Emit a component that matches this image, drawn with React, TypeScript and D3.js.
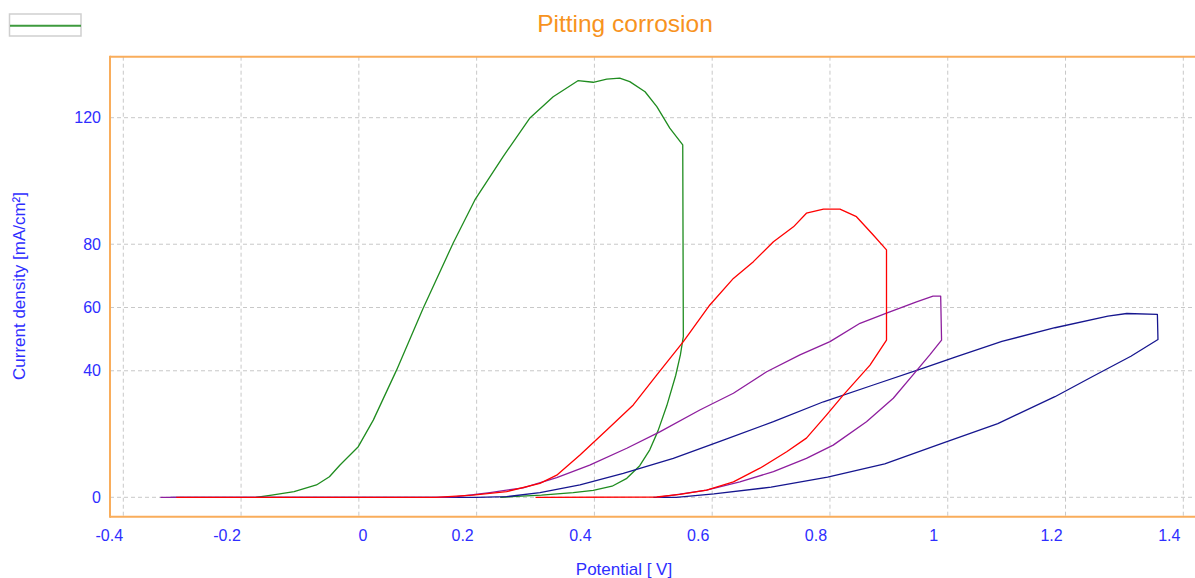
import React from 'react';
import * as d3 from 'd3';

// potential [V], current density [mA/cm²]
const greenCurve: [number, number][] = [
  [-0.175, 0], [-0.148, 0.7], [-0.11, 1.8], [-0.072, 3.9], [-0.05, 6.5], [-0.032, 10.2],
  [-0.001, 16], [0.0245, 24.4], [0.064, 40.2], [0.109, 59.7], [0.16, 80.3], [0.197, 94],
  [0.245, 107.7], [0.29, 119.8], [0.33, 126.6], [0.372, 131.7], [0.398, 131.2], [0.421, 132.2],
  [0.443, 132.5], [0.46, 131.4], [0.486, 128.2], [0.506, 123.5], [0.528, 116.7], [0.55, 111.4],
  [0.551, 50.8], [0.546, 45], [0.538, 38.5], [0.523, 29], [0.508, 21], [0.494, 15], [0.477, 10],
  [0.455, 6], [0.43, 3.5], [0.398, 2.2], [0.364, 1.5], [0.31, 0.7], [0.26, 0.2], [0.24, 0],
];

const redCurve: [number, number][] = [
  [-0.31, 0], [0.13, 0], [0.194, 0.7], [0.251, 1.8], [0.3075, 4.4], [0.336, 7], [0.3755, 13.4],
  [0.421, 21.3], [0.466, 29.2], [0.506, 38.7], [0.551, 49.2], [0.596, 60.8], [0.636, 69.2],
  [0.67, 74.5], [0.704, 80.8], [0.738, 85.5], [0.76, 89.8], [0.789, 91.1], [0.817, 91.1],
  [0.845, 88.7], [0.8735, 82.9], [0.896, 78.2], [0.896, 49.7], [0.868, 41.8], [0.8225, 32.3],
  [0.794, 26], [0.76, 18.7], [0.7265, 14.4], [0.681, 9.2], [0.636, 4.9], [0.5905, 2.3],
  [0.545, 0.9], [0.506, 0.1], [0.3, 0],
];

const purpleCurve: [number, number][] = [
  [-0.337, 0], [0.14, 0], [0.166, 0.2], [0.2225, 1.5], [0.279, 3], [0.336, 6.2], [0.392, 10.2],
  [0.455, 15.5], [0.511, 20.7], [0.579, 27.6], [0.636, 32.9], [0.6925, 39.7], [0.749, 45],
  [0.8, 49.2], [0.851, 55], [0.896, 58.2], [0.947, 61.8], [0.975, 63.6], [0.988, 63.6],
  [0.9895, 49.7], [0.9695, 45], [0.941, 38.7], [0.9075, 31.3], [0.862, 23.9], [0.8055, 16.5],
  [0.76, 12.3], [0.704, 8.1], [0.647, 4.9], [0.5905, 2.3], [0.534, 0.7], [0.506, 0],
];

const navyCurve: [number, number][] = [
  [-0.32, 0], [0.2, 0], [0.251, 0.2], [0.3075, 1.5], [0.3755, 3.9], [0.449, 7.6], [0.534, 12.3],
  [0.619, 18.1], [0.704, 23.9], [0.789, 30.2], [0.8735, 35.5], [0.9585, 40.8], [1.015, 44.5],
  [1.092, 49.3], [1.182, 53.6], [1.272, 57.3], [1.304, 58.1], [1.356, 57.8], [1.357, 49.9],
  [1.311, 44.6], [1.246, 38.2], [1.182, 31.8], [1.085, 23.3], [0.989, 17], [0.893, 10.6],
  [0.796, 6.4], [0.7, 3.2], [0.603, 1.1], [0.539, 0], [0.5, 0],
];

const xTicks = [-0.4, -0.2, 0, 0.2, 0.4, 0.6, 0.8, 1, 1.2, 1.4];
const yTicks = [0, 40, 60, 80, 120];

const series = [
  { name: 'green', data: greenCurve, color: '#1f8c1f' },
  { name: 'navy', data: navyCurve, color: '#16168f' },
  { name: 'purple', data: purpleCurve, color: '#8e1e9e' },
  { name: 'red', data: redCurve, color: '#ff0000' },
];

const W = 1195;
const H = 578;
const frame = { left: 110, top: 56.7, right: 1195, bottom: 516.7 };
const orange = '#f9ad5b';
const blue = '#2e2eff';
const font = '"Liberation Sans", Arial, sans-serif';

export default function App() {
  const x = d3.scaleLinear().domain([-0.4, 1.4]).range([123.3, 1183.3]);
  const y = d3.scaleLinear().domain([0, 120]).range([497.3, 117.7]);

  const line = d3.line<[number, number]>()
    .x((d) => x(d[0]))
    .y((d) => y(d[1]));

  const fmt = (v: number) => String(Math.round(v * 10) / 10);

  return (
    <svg width={W} height={H} style={{ position: 'absolute', left: 0, top: 0, background: '#fff' }}
      fontFamily={font}>
      {/* legend box */}
      <rect x={9.5} y={14} width={71.5} height={22} fill="#fff" stroke="#cfcfcf" strokeWidth={1.5} />
      <line x1={10} x2={81} y1={25.7} y2={25.7} stroke="#3d9a3d" strokeWidth={2} />

      {/* title */}
      <text x={625} y={31.5} textAnchor="middle" fontSize={24.5} fill="#f7931e">Pitting corrosion</text>

      {/* grid */}
      <g stroke="#c8c8c8" strokeWidth={1} strokeDasharray="4,3">
        {xTicks.map((t) => (
          <line key={'gx' + t} x1={x(t)} x2={x(t)} y1={frame.top} y2={frame.bottom + 2} />
        ))}
        {yTicks.map((t) => (
          <line key={'gy' + t} x1={frame.left} x2={frame.right} y1={y(t)} y2={y(t)} />
        ))}
      </g>

      {/* curves */}
      <g fill="none" strokeWidth={1.3} strokeLinejoin="round">
        {series.map((s) => (
          <path key={s.name} d={line(s.data) || ''} stroke={s.color} />
        ))}
      </g>

      {/* frame */}
      <g stroke={orange} strokeWidth={2}>
        <line x1={frame.left} x2={frame.right} y1={frame.top} y2={frame.top} />
        <line x1={frame.left} x2={frame.right} y1={frame.bottom} y2={frame.bottom} />
        <line x1={frame.left} x2={frame.left} y1={frame.top - 1} y2={frame.bottom + 1} />
      </g>

      {/* tick labels */}
      <g fill={blue} fontSize={16}>
        {xTicks.map((t) => (
          <text key={'tx' + t} x={x(t) + (t === 0 ? 4 : -14)} y={541} textAnchor="middle">{fmt(t)}</text>
        ))}
        {yTicks.map((t) => (
          <text key={'ty' + t} x={101} y={y(t) + 5.6} textAnchor="end">{t}</text>
        ))}
      </g>

      {/* axis titles */}
      <text x={624} y={575} textAnchor="middle" fontSize={17} fill={blue}>Potential [ V]</text>
      <text transform="translate(25,286) rotate(-90)" textAnchor="middle" fontSize={17} fill={blue}>
        Current density [mA/cm²]
      </text>
    </svg>
  );
}
